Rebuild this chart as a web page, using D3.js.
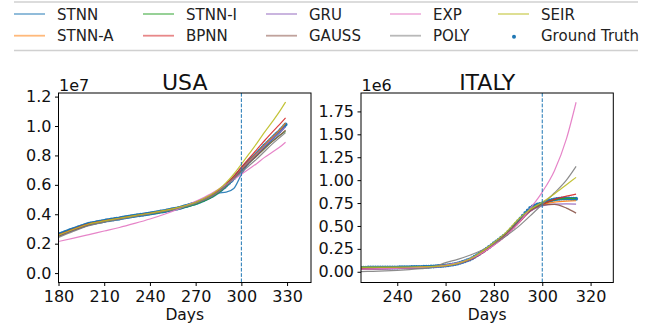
<!DOCTYPE html>
<html><head><meta charset="utf-8">
<script src="https://cdn.jsdelivr.net/npm/d3@7"></script>
<style>body{margin:0;background:#fff}svg{display:block;font-family:"DejaVu Sans",sans-serif}</style>
</head><body><svg id="c" width="651" height="329"></svg>
<script>
// ---------- DATA ----------
const seriesNames = ["STNN","STNN-A","STNN-I","BPNN","GRU","GAUSS","EXP","POLY","SEIR"];
const seriesColors = ["#1f77b4","#ff7f0e","#2ca02c","#d62728","#9467bd","#8c564b","#e377c2","#7f7f7f","#bcbd22"];
const truthColor = "#1f77b4";

// USA (values in millions)
const usaTruthStart = 180;
const usaTruth = [
 2.60,2.65,2.69,2.73,2.77,2.81,2.85,2.89,2.93,2.97,
 3.00,3.04,3.07,3.11,3.14,3.18,3.21,3.25,3.28,3.32,
 3.35,3.37,3.39,3.41,3.43,3.45,3.47,3.49,3.51,3.53,
 3.55,3.57,3.59,3.60,3.62,3.64,3.65,3.67,3.69,3.70,
 3.72,3.74,3.76,3.78,3.79,3.81,3.83,3.85,3.87,3.88,
 3.90,3.91,3.93,3.94,3.96,3.97,3.99,4.00,4.02,4.03,
 4.05,4.07,4.09,4.10,4.12,4.14,4.16,4.18,4.19,4.21,
 4.23,4.25,4.27,4.29,4.32,4.34,4.36,4.38,4.40,4.43,
 4.45,4.48,4.51,4.54,4.57,4.60,4.63,4.66,4.69,4.72,
 4.75,4.79,4.83,4.87,4.92,4.96,5.01,5.06,5.10,5.15,
 5.20,5.26,5.32,5.39,5.46,5.53,5.61,5.69,5.78,5.86,
 5.95,6.05,6.15,6.25,6.35,6.45,6.57,6.69,6.81,6.93,
 7.05,7.16,7.27,7.38,7.49,7.60,7.70,7.80,7.90,8.00,
 8.10,8.21,8.32,8.43,8.54,8.65,8.75,8.85,8.95,9.05,
 9.15,9.25,9.35,9.45,9.55,9.65,9.76,9.87,9.98,10.10];
const usaDays = [180,190,200,210,220,230,240,250,260,270,280,285,290,295,300,305,310,315,320,325,329];
const usaSTNN  = [2.62,3.02,3.36,3.56,3.73,3.90,4.06,4.24,4.45,4.74,5.15,5.45,5.50,5.75,6.70,7.55,8.10,8.65,9.15,9.65,10.05];
const usaSTNNA = [2.58,2.98,3.33,3.54,3.71,3.89,4.05,4.24,4.47,4.78,5.25,5.58,6.00,6.50,7.08,7.62,8.13,8.68,9.20,9.70,10.20];
const usaSTNNI = [2.56,2.96,3.31,3.52,3.70,3.88,4.03,4.20,4.40,4.68,5.12,5.46,5.90,6.42,7.00,7.50,7.96,8.45,8.92,9.35,9.65];
const usaBPNN  = [2.60,3.00,3.35,3.55,3.72,3.90,4.06,4.25,4.48,4.80,5.28,5.62,6.06,6.58,7.20,7.80,8.38,8.98,9.55,10.10,10.55];
const usaGRU   = [2.55,2.95,3.30,3.52,3.70,3.88,4.04,4.22,4.44,4.75,5.20,5.53,5.96,6.45,7.02,7.55,8.05,8.60,9.10,9.55,9.95];
const usaGAUSS = [2.50,2.92,3.28,3.50,3.69,3.88,4.05,4.24,4.47,4.78,5.22,5.55,5.96,6.44,6.98,7.48,7.96,8.45,8.92,9.35,9.72];
const usaEXP   = [2.15,2.38,2.62,2.86,3.10,3.38,3.68,4.02,4.42,4.88,5.40,5.70,6.02,6.36,6.72,7.08,7.44,7.85,8.20,8.55,8.90];
const usaPOLY  = [2.42,2.85,3.22,3.46,3.66,3.85,4.03,4.22,4.45,4.76,5.22,5.55,5.98,6.42,6.85,7.30,7.75,8.25,8.75,9.20,9.55];
const usaSEIR  = [2.58,2.98,3.34,3.55,3.73,3.91,4.07,4.26,4.50,4.82,5.32,5.68,6.15,6.72,7.40,8.10,8.80,9.55,10.25,10.98,11.63];

// ITALY (values in millions)
const itaTruthStart = 225;
const itaTruth = [
 0.045,0.045,0.045,0.046,0.046,0.046,0.046,0.047,0.047,0.047,0.047,
 0.048,0.048,0.048,0.048,0.048,0.049,0.049,0.049,0.050,0.050,
 0.051,0.051,0.052,0.052,0.053,0.054,0.055,0.056,0.057,0.058,
 0.060,0.062,0.064,0.066,0.068,
 0.072,0.076,0.080,0.085,0.090,
 0.098,0.106,0.115,0.125,0.135,
 0.149,0.164,0.180,0.197,0.215,
 0.233,0.252,0.271,0.290,0.310,
 0.330,0.350,0.370,0.390,0.410,
 0.436,0.464,0.492,0.522,0.552,
 0.582,0.612,0.641,0.669,0.695,
 0.712,0.724,0.733,0.740,0.746,
 0.756,0.766,0.776,0.784,0.790,
 0.794,0.797,0.799,0.800,0.800,
 0.799,0.798,0.797,0.796];
const itaDays = [225,230,235,240,245,250,255,260,265,270,275,280,285,290,295,300,305,310,314];
const itaSTNN  = [0.048,0.049,0.050,0.051,0.052,0.055,0.060,0.070,0.092,0.135,0.210,0.300,0.405,0.540,0.680,0.745,0.790,0.800,0.800];
const itaSTNNA = [0.040,0.041,0.042,0.044,0.046,0.050,0.056,0.067,0.090,0.134,0.212,0.305,0.410,0.540,0.665,0.730,0.760,0.772,0.775];
const itaSTNNI = [0.042,0.043,0.044,0.046,0.048,0.051,0.057,0.068,0.090,0.132,0.208,0.300,0.402,0.535,0.668,0.740,0.785,0.800,0.802];
const itaBPNN  = [0.035,0.036,0.038,0.040,0.043,0.047,0.054,0.066,0.088,0.128,0.200,0.292,0.395,0.525,0.660,0.735,0.790,0.825,0.848];
const itaGRU   = [0.025,0.027,0.030,0.034,0.038,0.043,0.050,0.062,0.085,0.128,0.205,0.300,0.405,0.535,0.660,0.720,0.738,0.740,0.739];
const itaGAUSS = [0.030,0.032,0.035,0.039,0.043,0.048,0.056,0.069,0.093,0.135,0.210,0.305,0.410,0.540,0.665,0.728,0.735,0.695,0.640];
const itaEXP   = [0.030,0.032,0.035,0.038,0.042,0.048,0.057,0.072,0.097,0.140,0.205,0.290,0.395,0.525,0.690,0.870,1.100,1.450,1.850];
const itaPOLY  = [0.002,0.005,0.010,0.016,0.024,0.034,0.050,0.100,0.135,0.180,0.235,0.305,0.390,0.490,0.610,0.735,0.860,1.000,1.150];
const itaSEIR  = [0.050,0.050,0.050,0.051,0.052,0.054,0.058,0.068,0.092,0.140,0.220,0.320,0.430,0.570,0.680,0.760,0.850,0.950,1.030];

const usaXTicks = [180,210,240,270,300,330];
const usaYTicks = [0,2,4,6,8,10,12];
const itaXTicks = [240,260,280,300,320];
const itaYTicks = [0,0.25,0.5,0.75,1.0,1.25,1.5,1.75];

// ---------- DRAW ----------
const svg = d3.select("#c");
const FS = 16;

// legend
const legendItems = [
  {name:"STNN", color:seriesColors[0], col:0,row:0},
  {name:"STNN-A", color:seriesColors[1], col:0,row:1},
  {name:"STNN-I", color:seriesColors[2], col:1,row:0},
  {name:"BPNN", color:seriesColors[3], col:1,row:1},
  {name:"GRU", color:seriesColors[4], col:2,row:0},
  {name:"GAUSS", color:seriesColors[5], col:2,row:1},
  {name:"EXP", color:seriesColors[6], col:3,row:0},
  {name:"POLY", color:seriesColors[7], col:3,row:1},
  {name:"SEIR", color:seriesColors[8], col:4,row:0},
  {name:"Ground Truth", color:truthColor, col:4,row:1, dot:true}
];
const colX = [14,143,266,390,498];
const rowY = [14,35.7];
const lg = svg.append("g");
lg.append("line").attr("x1",14).attr("x2",638).attr("y1",2).attr("y2",2).attr("stroke","#d0d0d0").attr("stroke-width",1.3);
lg.append("line").attr("x1",14).attr("x2",638).attr("y1",50.5).attr("y2",50.5).attr("stroke","#d0d0d0").attr("stroke-width",1.3);
legendItems.forEach(it=>{
  const x=colX[it.col], y=rowY[it.row];
  if(it.dot){
    lg.append("circle").attr("cx",x+16).attr("cy",y+1).attr("r",2).attr("fill",it.color);
  } else {
    lg.append("line").attr("x1",x).attr("x2",x+31).attr("y1",y).attr("y2",y)
      .attr("stroke",it.color).attr("stroke-width",1.8).attr("stroke-opacity",0.55);
  }
  lg.append("text").attr("x",x+43).attr("y",y+5.5).attr("font-size",15).attr("fill","#222").text(it.name);
});

function panel(cfg){
  const g = svg.append("g");
  const x = d3.scaleLinear().domain(cfg.xDomain).range([cfg.left,cfg.right]);
  const y = d3.scaleLinear().domain(cfg.yDomain).range([cfg.bottom,cfg.top]);
  const clipId = "clip"+cfg.id;
  svg.append("clipPath").attr("id",clipId).append("rect")
    .attr("x",cfg.left).attr("y",cfg.top).attr("width",cfg.right-cfg.left).attr("height",cfg.bottom-cfg.top);
  const plot = g.append("g").attr("clip-path",`url(#${clipId})`);

  // truth dots (underneath)
  const tdata = cfg.truth.map((v,j)=>[cfg.truthStart+j,v]);
  plot.selectAll("circle.t").data(tdata).enter().append("circle")
    .attr("cx",d=>x(d[0])).attr("cy",d=>y(d[1])).attr("r",2.0).attr("fill",truthColor);

  const line = d3.line().x(d=>x(d[0])).y(d=>y(d[1])).curve(d3.curveMonotoneX);
  cfg.series.forEach((vals,i)=>{
    plot.append("path").datum(cfg.days.map((d,j)=>[d,vals[j]]))
      .attr("d",line).attr("fill","none").attr("stroke",seriesColors[i])
      .attr("stroke-width",1.2).attr("stroke-opacity",0.9);
  });

  // vertical dashed line
  plot.append("line").attr("x1",x(300)).attr("x2",x(300)).attr("y1",cfg.top).attr("y2",cfg.bottom)
    .attr("stroke","#1f77b4").attr("stroke-width",1).attr("stroke-dasharray","3.7,1.6");

  // axes
  const xa = g.append("g").attr("transform",`translate(0,${cfg.bottom})`)
    .call(d3.axisBottom(x).tickValues(cfg.xTicks).tickSize(3.5).tickPadding(5).tickFormat(d3.format("d")));
  const ya = g.append("g").attr("transform",`translate(${cfg.left},0)`)
    .call(d3.axisLeft(y).tickValues(cfg.yTicks).tickSize(3.5).tickPadding(3.5).tickFormat(cfg.yFmt));
  [xa,ya].forEach(a=>{
    a.select(".domain").remove();
    a.selectAll("text").attr("font-size",FS).attr("font-family","DejaVu Sans").attr("fill","#111");
    a.selectAll("line").attr("stroke","#000").attr("stroke-width",1);
  });
  // frame
  g.append("rect").attr("x",cfg.left).attr("y",cfg.top).attr("width",cfg.right-cfg.left).attr("height",cfg.bottom-cfg.top)
    .attr("fill","none").attr("stroke","#000").attr("stroke-width",1);
  // title, offset, xlabel
  g.append("text").attr("x",(cfg.left+cfg.right)/2).attr("y",90).attr("text-anchor","middle")
    .attr("font-size",22).attr("fill","#111").text(cfg.title);
  g.append("text").attr("x",cfg.left+0.5).attr("y",91).attr("font-size",FS).attr("fill","#111").text(cfg.offset);
  g.append("text").attr("x",(cfg.left+cfg.right)/2).attr("y",320).attr("text-anchor","middle")
    .attr("font-size",15.5).attr("fill","#111").text("Days");
}

panel({id:"usa", title:"USA", offset:"1e7", left:58.5, right:311, top:93, bottom:282.5,
  xDomain:[180,345.7], yDomain:[-0.64,12.245],
  xTicks:usaXTicks, yTicks:usaYTicks, yFmt:d=>(d/10).toFixed(1),
  days:usaDays, truth:usaTruth, truthStart:usaTruthStart,
  series:[usaSTNN,usaSTNNA,usaSTNNI,usaBPNN,usaGRU,usaGAUSS,usaEXP,usaPOLY,usaSEIR]});

panel({id:"ita", title:"ITALY", offset:"1e6", left:361, right:613.3, top:93, bottom:282.5,
  xDomain:[225,329.4], yDomain:[-0.117,1.951],
  xTicks:itaXTicks, yTicks:itaYTicks, yFmt:d=>d.toFixed(2),
  days:itaDays, truth:itaTruth, truthStart:itaTruthStart,
  series:[itaSTNN,itaSTNNA,itaSTNNI,itaBPNN,itaGRU,itaGAUSS,itaEXP,itaPOLY,itaSEIR]});
</script></body></html>
